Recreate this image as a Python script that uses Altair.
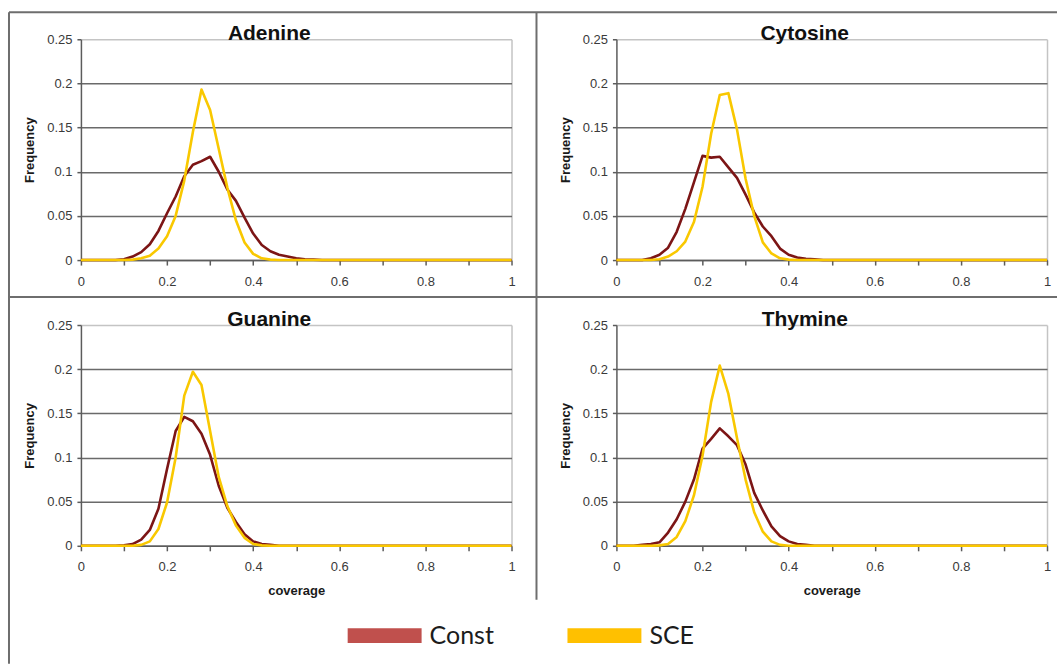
import altair as alt
import pandas as pd

BASES = ["Adenine", "Cytosine", "Guanine", "Thymine"]
SERIES = ["Const", "SCE"]

COVERAGE = [0.00, 0.02, 0.04, 0.06, 0.08, 0.10, 0.12, 0.14, 0.16, 0.18,
            0.20, 0.22, 0.24, 0.26, 0.28, 0.30, 0.32, 0.34, 0.36, 0.38,
            0.40, 0.42, 0.44, 0.46, 0.48, 0.50, 0.52, 0.54, 0.56, 1.00]

ADENINE_CONST = [0, 0, 0, 0, 0, 0.001, 0.004, 0.009, 0.018, 0.033,
                 0.053, 0.072, 0.095, 0.108, 0.112, 0.117, 0.100, 0.080, 0.067, 0.048,
                 0.030, 0.017, 0.010, 0.006, 0.004, 0.002, 0.001, 0.0005, 0, 0]
ADENINE_SCE = [0, 0, 0, 0, 0, 0, 0.0005, 0.002, 0.005, 0.013,
               0.027, 0.050, 0.090, 0.145, 0.193, 0.170, 0.126, 0.082, 0.045, 0.020,
               0.007, 0.002, 0.0005, 0, 0, 0, 0, 0, 0, 0]
CYTOSINE_CONST = [0, 0, 0, 0, 0.002, 0.006, 0.014, 0.032, 0.058, 0.088,
                  0.118, 0.116, 0.117, 0.105, 0.093, 0.074, 0.054, 0.038, 0.027, 0.013,
                  0.006, 0.003, 0.0015, 0.0008, 0, 0, 0, 0, 0, 0]
CYTOSINE_SCE = [0, 0, 0, 0, 0, 0.001, 0.004, 0.010, 0.021, 0.043,
                0.083, 0.143, 0.187, 0.189, 0.148, 0.092, 0.050, 0.020, 0.0075, 0.002,
                0.0005, 0, 0, 0, 0, 0, 0, 0, 0, 0]
GUANINE_CONST = [0, 0, 0, 0, 0, 0.0005, 0.002, 0.007, 0.018, 0.042,
                 0.087, 0.130, 0.146, 0.141, 0.127, 0.103, 0.068, 0.043, 0.027, 0.013,
                 0.005, 0.002, 0.001, 0, 0, 0, 0, 0, 0, 0]
GUANINE_SCE = [0, 0, 0, 0, 0, 0, 0, 0.001, 0.005, 0.019,
               0.049, 0.100, 0.170, 0.197, 0.182, 0.130, 0.078, 0.045, 0.023, 0.009,
               0.002, 0.0005, 0, 0, 0, 0, 0, 0, 0, 0]
THYMINE_CONST = [0, 0, 0, 0.001, 0.002, 0.004, 0.015, 0.030, 0.050, 0.075,
                 0.110, 0.121, 0.133, 0.124, 0.114, 0.092, 0.060, 0.040, 0.022, 0.011,
                 0.005, 0.002, 0.001, 0, 0, 0, 0, 0, 0, 0]
THYMINE_SCE = [0, 0, 0, 0, 0, 0.0005, 0.002, 0.010, 0.028, 0.057,
               0.102, 0.163, 0.204, 0.172, 0.122, 0.075, 0.038, 0.016, 0.005, 0.001,
               0, 0, 0, 0, 0, 0, 0, 0, 0, 0]

CONST = [ADENINE_CONST, CYTOSINE_CONST, GUANINE_CONST, THYMINE_CONST]
SCE = [ADENINE_SCE, CYTOSINE_SCE, GUANINE_SCE, THYMINE_SCE]

X_TICKS = [0, 0.1, 0.2, 0.3, 0.4, 0.5, 0.6, 0.7, 0.8, 0.9, 1]
Y_TICKS = [0, 0.05, 0.1, 0.15, 0.2, 0.25]

LINE_COLORS = ["#7c1515", "#f9c800"]
LEGEND_COLORS = ["#c0504d", "#ffc000"]
FRAME = "#6e6e6e"
AXIS = "#5c5c5c"
GRID = "#6a6a6a"
LIGHT = "#c4c4c4"
FONT = "Liberation Sans"

rows = []
for base, c, s in zip(BASES, CONST, SCE):
    for name, vals in (("Const", c), ("SCE", s)):
        for cov, f in zip(COVERAGE, vals):
            rows.append({"base": base, "series": name, "coverage": cov, "frequency": f})
df = pd.DataFrame(rows)

W, H = 431, 221


def rule(**enc):
    return alt.Chart(alt.Data(values=[{}])).mark_rule(color=FRAME, strokeWidth=2).encode(**enc)


def panel(base, bottom):
    xkw = dict(values=X_TICKS, format="~g",
               labelExpr="round(datum.value * 10) % 2 == 0 ? datum.label : ''",
               grid=True,
               gridColor={"condition": {"test": "datum.value >= 1", "value": LIGHT}, "value": "transparent"},
               gridWidth=1.5, domainColor=AXIS, domainWidth=1.5, tickColor=AXIS, tickWidth=1.5,
               tickSize=5, labelPadding=10, labelFlush=False, labelOverlap=False,
               labelFont=FONT, labelFontSize=13, labelColor="#3a3a3a",
               titleFont=FONT, titleFontSize=13, titleFontWeight="bold", titleColor="#1a1a1a",
               titlePadding=11)
    xkw["title"] = "coverage" if bottom else ""
    x = alt.X("coverage:Q", scale=alt.Scale(domain=[0, 1], nice=False), axis=alt.Axis(**xkw))
    y = alt.Y("frequency:Q", scale=alt.Scale(domain=[0, 0.25], nice=False),
              axis=alt.Axis(values=Y_TICKS, format="~g", title="Frequency", grid=True,
                            gridColor={"condition": {"test": "datum.value >= 0.25", "value": LIGHT},
                                       "value": GRID},
                            gridWidth=1.5, domainColor=AXIS, domainWidth=1.5, tickColor=AXIS,
                            tickWidth=1.5, tickSize=4, labelPadding=5, labelFlush=False,
                            labelOverlap=False, labelFont=FONT, labelFontSize=13,
                            labelColor="#3a3a3a", titleFont=FONT, titleFontSize=13,
                            titleFontWeight="bold", titleColor="#1a1a1a", titlePadding=10))
    lines = alt.Chart(df).transform_filter(alt.datum.base == base).mark_line(
        strokeWidth=2.6, strokeJoin="round").encode(
        x=x, y=y,
        stroke=alt.Stroke("series:N", scale=alt.Scale(domain=SERIES, range=LINE_COLORS), legend=None),
    )
    title = alt.Chart(alt.Data(values=[{"name": base}])).mark_text(
        font=FONT, fontSize=21, fontWeight="bold", color="#111111", align="center",
        baseline="alphabetic").encode(text="name:N", x=alt.value(W / 2 - 27), y=alt.value(1))
    return [lines, title]


frame_rules = [
    rule(x=alt.value(-72), x2=alt.value(977), y=alt.value(-27)),
    rule(x=alt.value(-72), y=alt.value(-27), y2=alt.value(625)),
    rule(x=alt.value(456), y=alt.value(-27), y2=alt.value(561)),
    rule(x=alt.value(-72), x2=alt.value(977), y=alt.value(258)),
]

legend_layer = alt.Chart(alt.Data(values=[{"series": s} for s in SERIES])).mark_square(
    size=0, opacity=1, filled=True).encode(
    x=alt.value(0), y=alt.value(0),
    fill=alt.Fill("series:N", scale=alt.Scale(domain=SERIES, range=LEGEND_COLORS),
                  legend=alt.Legend(orient="none", legendX=267, legendY=274, direction="horizontal",
                                    title=None, symbolType="M-1,-0.2H1V0.2H-1Z", symbolSize=5476,
                                    symbolStrokeWidth=0, symbolOpacity=1, labelFont="Lato",
                                    labelFontSize=25, labelColor="#1c1c1c", labelOffset=8,
                                    columnPadding=73, padding=0))
)

p1 = alt.layer(*panel("Adenine", False), *frame_rules).properties(width=W, height=H)
p2 = alt.layer(*panel("Cytosine", False)).properties(width=W, height=H)
p3 = alt.layer(*panel("Guanine", True), legend_layer).properties(width=W, height=H)
p4 = alt.layer(*panel("Thymine", True)).properties(width=W, height=H)

chart = alt.concat(p1, p2, p3, p4, columns=2, spacing={"row": 65, "column": 105},
                   bounds="flush").resolve_legend(fill="independent").properties(
    padding={"left": 8, "top": 11, "right": 0, "bottom": 0},
    background="white",
).configure_view(stroke=None)

chart.save("out.html", embed_options={"renderer": "svg", "actions": False})
